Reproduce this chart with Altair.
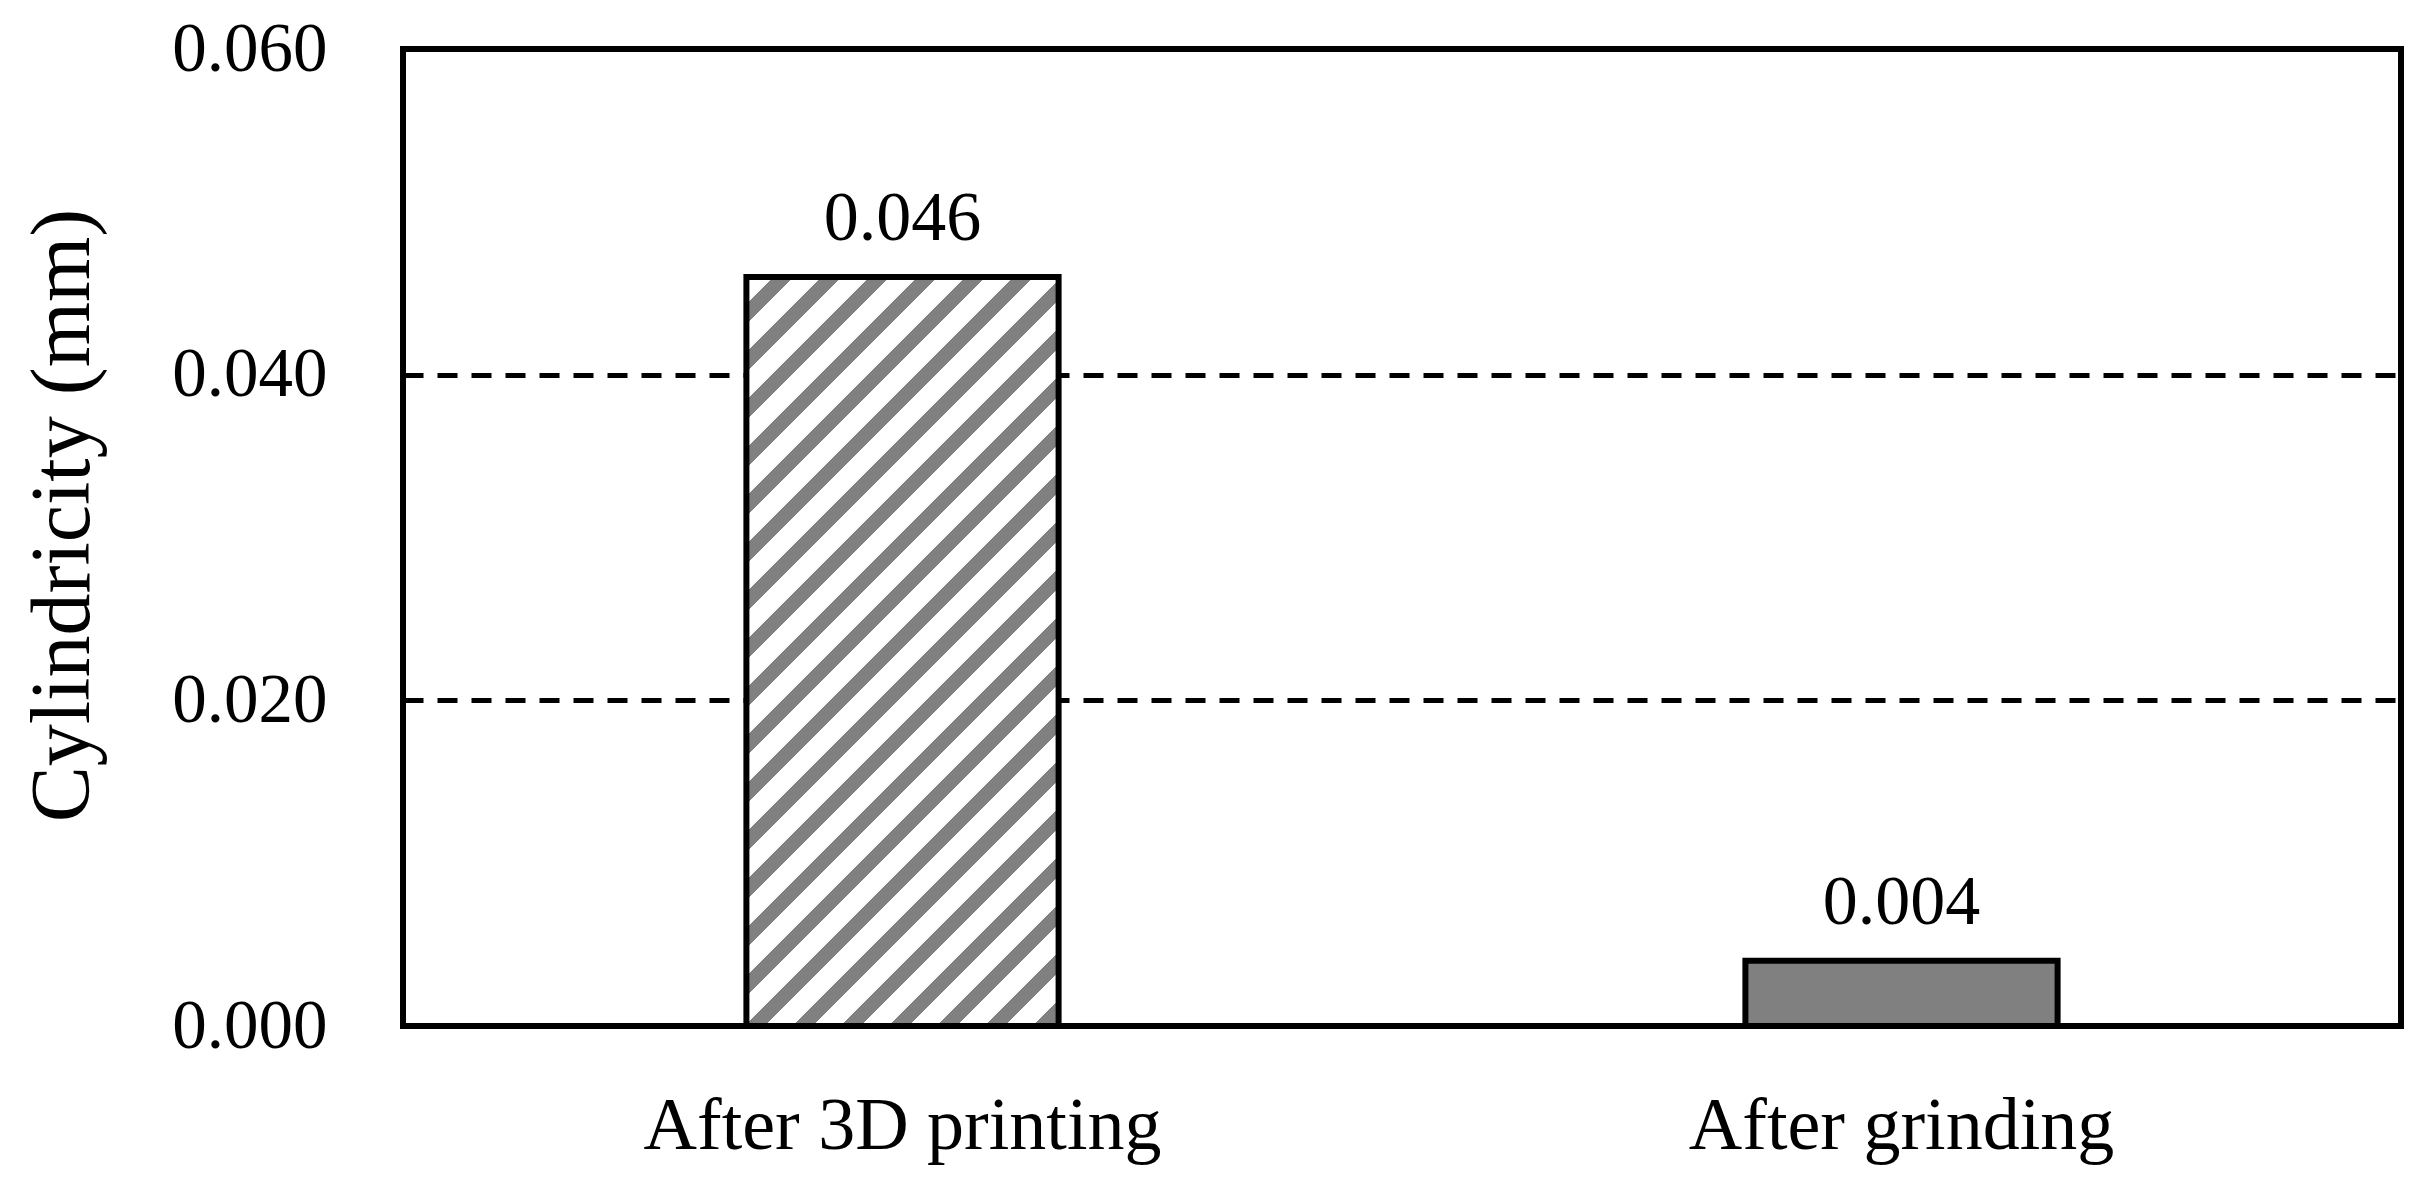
import altair as alt
import pandas as pd

# ---- data ----
stages = ["After 3D printing", "After grinding"]
cylindricity = [0.046, 0.004]
y_ticks = [0.0, 0.02, 0.04, 0.06]

df = pd.DataFrame({"stage": stages, "value": cylindricity})

FONT = "Liberation Serif"
GRAY = "#808080"

# plot geometry (pixels)
PLOT_W = 1998
PLOT_H = 977
BAR_FRAC = 0.3125
Y_MAX = 0.06

# ---- hatch pattern for the first bar built as a hard-stop linear gradient ----
bar_w = PLOT_W / len(stages) * BAR_FRAC
bar_h = cylindricity[0] / Y_MAX * PLOT_H
span = bar_w + bar_h
k = span / (bar_w ** 2 + bar_h ** 2)
gx2, gy2 = bar_w * k, bar_h * k   # makes t = (x + y) / (W + H)  -> 45 degree stripes

PERIOD = 48.0
GRAY_W = 20.0
PHASE = 27.0 - PERIOD
stops = [alt.GradientStop(color="white", offset=0.0)]
s = PHASE
while s < span:
    a, b = s, s + GRAY_W
    if b > 0:
        oa = max(a, 0.0) / span
        ob = min(b, span) / span
        stops += [
            alt.GradientStop(color="white", offset=round(oa, 5)),
            alt.GradientStop(color=GRAY, offset=round(oa, 5)),
            alt.GradientStop(color=GRAY, offset=round(ob, 5)),
            alt.GradientStop(color="white", offset=round(ob, 5)),
        ]
    s += PERIOD
stops.append(alt.GradientStop(color="white", offset=1.0))

hatch = alt.LinearGradient(gradient="linear", stops=stops, x1=0, y1=0, x2=gx2, y2=gy2)

x_enc = alt.X(
    "stage:N",
    sort=stages,
    scale=alt.Scale(paddingInner=0, paddingOuter=0),
    axis=alt.Axis(
        title=None,
        labelAngle=0,
        labelFont=FONT,
        labelFontSize=74,
        labelColor="black",
        labelPadding=64,
        labelLimit=0,
        ticks=False,
        tickSize=0,
        domain=False,
    ),
)
y_enc = alt.Y(
    "value:Q",
    scale=alt.Scale(domain=[0, Y_MAX], nice=False, zero=True),
    axis=alt.Axis(
        title="Cylindricity (mm)",
        values=y_ticks,
        format=".3f",
        labelFont=FONT,
        labelFontSize=69,
        labelColor="black",
        labelPadding=76,
        labelLimit=0,
        ticks=False,
        tickSize=0,
        domain=False,
        grid=True,
        gridColor="black",
        gridDash=[20, 14],
        gridWidth=5,
        gridOpacity=1,
        titleFont=FONT,
        titleFontSize=84,
        titleFontWeight="normal",
        titleColor="black",
        titleAngle=270,
        titleAlign="center",
        titleBaseline="alphabetic",
        titleX=-315,
        titleY=466,
        titleLimit=0,
    ),
)

base = alt.Chart(df).encode(x=x_enc, y=y_enc)

bar1 = base.transform_filter(alt.datum.stage == stages[0]).mark_bar(
    fill=hatch, stroke="black", strokeWidth=6, width=alt.RelativeBandSize(band=BAR_FRAC)
)
bar2 = base.transform_filter(alt.datum.stage == stages[1]).mark_bar(
    fill=GRAY, stroke="black", strokeWidth=6, width=alt.RelativeBandSize(band=BAR_FRAC)
)
labels = base.mark_text(
    font=FONT, fontSize=70, color="black", baseline="alphabetic", dy=-37
).encode(text=alt.Text("value:Q", format=".3f"))

chart = (
    alt.layer(bar1, bar2, labels)
    .properties(
        width=PLOT_W,
        height=PLOT_H,
        autosize=alt.AutoSizeParams(type="none"),
        padding={"left": 395, "top": 41, "right": 20, "bottom": 150},
        background="white",
    )
    .configure_view(stroke="black", strokeWidth=6, fill="white")
)

chart.save("out.html", embed_options={"renderer": "svg", "actions": False})
